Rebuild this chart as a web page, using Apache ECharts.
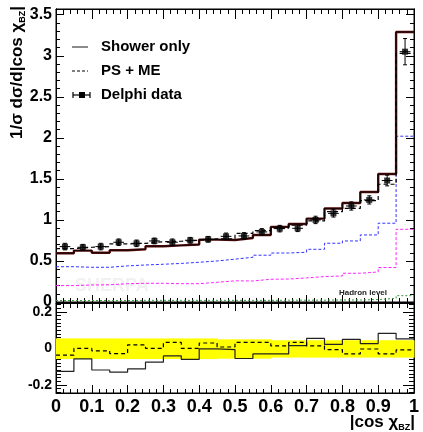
<!DOCTYPE html>
<html><head><meta charset="utf-8">
<script src="https://cdn.jsdelivr.net/npm/echarts@6/dist/echarts.min.js"></script>
<style>html,body{margin:0;padding:0;background:#fff}#c{width:423px;height:432px}</style>
</head><body><div id="c"></div>
<script>
// ---- data ----
const binEdges = [0,0.05,0.1,0.15,0.2,0.25,0.3,0.35,0.4,0.45,0.5,0.55,0.6,0.65,0.7,0.75,0.8,0.85,0.9,0.95,1.0];
const showerOnly = [0.594,0.626,0.600,0.630,0.643,0.680,0.690,0.700,0.760,0.756,0.780,0.817,0.915,0.951,1.016,1.140,1.207,1.340,1.560,3.290];
const psME       = [0.650,0.667,0.675,0.707,0.715,0.735,0.740,0.752,0.770,0.770,0.837,0.870,0.900,0.935,0.988,1.100,1.140,1.235,1.435,3.030];
const delphi     = [0.675,0.667,0.675,0.728,0.715,0.744,0.728,0.752,0.764,0.800,0.805,0.854,0.894,0.898,1.000,1.080,1.170,1.244,1.480,3.050];
const delphiErr  = [0.040,0.035,0.040,0.040,0.040,0.035,0.040,0.035,0.035,0.040,0.040,0.040,0.040,0.040,0.045,0.045,0.050,0.050,0.065,0.160];
const blueComp   = [0.430,0.423,0.423,0.440,0.451,0.460,0.470,0.484,0.500,0.522,0.545,0.570,0.597,0.606,0.642,0.716,0.744,0.817,0.960,2.020];
const magentaComp= [0.200,0.207,0.210,0.223,0.228,0.228,0.223,0.223,0.240,0.258,0.256,0.277,0.280,0.293,0.310,0.317,0.350,0.366,0.420,0.886];
const greenComp  = [0.018,0.018,0.018,0.018,0.020,0.020,0.020,0.020,0.020,0.020,0.020,0.020,0.022,0.022,0.022,0.025,0.025,0.030,0.045,0.077];
const ratioShower= [-0.126,-0.057,-0.118,-0.130,-0.112,-0.075,-0.041,-0.060,-0.002,-0.006,-0.055,-0.030,-0.030,0.016,0.055,0.022,0.050,0.027,0.083,0.052];
const ratioPSME  = [-0.037,0.000,-0.013,-0.028,0.020,0.000,0.033,0.000,0.030,0.008,0.033,0.033,0.014,0.033,0.014,-0.006,-0.030,-0.003,-0.030,-0.008];
const bandUp     = [0.055,0.055,0.055,0.055,0.055,0.055,0.055,0.055,0.055,0.050,0.050,0.050,0.045,0.045,0.045,0.045,0.045,0.045,0.045,0.045];
const bandDown   = [-0.058,-0.058,-0.058,-0.058,-0.058,-0.058,-0.058,-0.058,-0.058,-0.056,-0.056,-0.056,-0.050,-0.050,-0.050,-0.050,-0.050,-0.050,-0.050,-0.050];
const xTickValues = [0,0.1,0.2,0.3,0.4,0.5,0.6,0.7,0.8,0.9,1];
const xTickLabels = ['0','0.1','0.2','0.3','0.4','0.5','0.6','0.7','0.8','0.9','1'];
const yTopTicks  = [0,0.5,1,1.5,2,2.5,3,3.5];
const yTopLabels = ['0','0.5','1','1.5','2','2.5','3','3.5'];
const yBotTicks  = [-0.2,0,0.2];
const yBotLabels = ['-0.2','0','0.2'];

// ---- helpers ----
const FONT = '"Liberation Sans", Arial, Helvetica, sans-serif';
function stepData(vals){const d=[];vals.forEach((v,i)=>{d.push([binEdges[i],v]);d.push([binEdges[i+1],v]);});return d;}
const binCenters = delphi.map((v,i)=>(binEdges[i]+binEdges[i+1])/2);
function minorList(lo,hi,step,majors){const r=[];const n=Math.round((hi-lo)/step);for(let k=0;k<=n;k++){const v=+(lo+k*step).toFixed(4);if(!majors.some(m=>Math.abs(m-v)<1e-6))r.push(v);}return r;}
const yTopMinor = minorList(0,3.5,0.1,yTopTicks);
const yBotMinor = minorList(-0.24,0.24,0.02,yBotTicks);

function xAx(grid,pos,majLen,minLen,labels){
  return {type:'value',gridIndex:grid,position:pos,min:0,max:1,interval:0.1,
    axisLine:{show:true,onZero:false,lineStyle:{color:'#000',width:1}},
    splitLine:{show:false},
    axisTick:{show:true,inside:true,length:majLen,lineStyle:{color:'#000',width:1}},
    minorTick:{show:true,splitNumber:5,length:minLen,lineStyle:{color:'#000',width:1}},
    axisLabel:labels?{show:true,color:'#000',fontFamily:FONT,fontWeight:'bold',fontSize:18,margin:5,
      formatter:v=>{const i=xTickValues.findIndex(t=>Math.abs(t-v)<1e-6);return i>=0?xTickLabels[i]:'';}}:{show:false}};
}
function yAx(grid,pos,min,max,vals,len,labelTexts,fs){
  return {type:'value',gridIndex:grid,position:pos,min:min,max:max,
    axisLine:{show:true,onZero:false,lineStyle:{color:'#000',width:1}},
    splitLine:{show:false},
    axisTick:{show:true,inside:true,length:len,customValues:vals,lineStyle:{color:'#000',width:1}},
    axisLabel:labelTexts?{show:true,customValues:vals,color:'#000',fontFamily:FONT,fontWeight:'bold',fontSize:fs,margin:4,
      formatter:v=>{const i=vals.findIndex(t=>Math.abs(t-v)<1e-6);return i>=0?labelTexts[i]:'';}}:{show:false,customValues:vals}};
}
function stepLine(name,vals,xi,yi,color,width,type,z){
  return {name:name,type:'line',xAxisIndex:xi,yAxisIndex:yi,data:stepData(vals),symbol:'none',silent:true,z:z,
    lineStyle:{color:color,width:width,type:type},animation:false};
}

const chart = echarts.init(document.getElementById('c'),null,{renderer:'canvas'});
const option = {
  animation:false,
  backgroundColor:'#fff',
  grid:[
    {left:56,right:9,top:9,height:293,show:true,borderColor:'#000',borderWidth:1,backgroundColor:'transparent'},
    {left:56,right:9,top:303,height:90,show:true,borderColor:'#000',borderWidth:1,backgroundColor:'transparent'}
  ],
  xAxis:[
    xAx(0,'bottom',7,4,false),
    xAx(0,'top',10,5,false),
    xAx(1,'bottom',8,4,true),
    xAx(1,'top',8,5,false)
  ],
  yAxis:[
    yAx(0,'left',0,3.57,yTopTicks,8,yTopLabels,16),
    yAx(0,'left',0,3.57,yTopMinor,4,null),
    yAx(0,'right',0,3.57,yTopTicks,8,null),
    yAx(0,'right',0,3.57,yTopMinor,4,null),
    yAx(1,'left',-0.244,0.249,yBotTicks,11,yBotLabels,14),
    yAx(1,'left',-0.244,0.249,yBotMinor,5,null),
    yAx(1,'right',-0.244,0.249,yBotTicks,11,null),
    yAx(1,'right',-0.244,0.249,yBotMinor,5,null)
  ],
  series:[
    stepLine('green',greenComp,0,0,'#3a9a3a',1,[2,2],2),
    stepLine('magenta',magentaComp,0,0,'#ff22ff',1,[3,2],2),
    stepLine('blue',blueComp,0,0,'#3333ff',1,[3,2],2),
    stepLine('Shower only',showerOnly,0,0,'#5a0c0c',2.4,'solid',3),
    stepLine('Shower only line',showerOnly,0,0,'#000',0.8,'solid',4),
    stepLine('PS + ME',psME,0,0,'#000',1.2,[4,3],5),
    {name:'Delphi err',type:'custom',xAxisIndex:0,yAxisIndex:0,z:6,silent:true,
      data:delphi.map((v,i)=>[binCenters[i],v,delphiErr[i]]),
      renderItem:function(params,api){
        const x=api.value(0),y=api.value(1),e=api.value(2);
        const t=api.coord([x,y+e]),b=api.coord([x,y-e]),l=api.coord([x-0.015,y]),r=api.coord([x+0.015,y]);
        const st={stroke:'#000',lineWidth:1};
        return {type:'group',children:[
          {type:'line',shape:{x1:t[0],y1:t[1],x2:b[0],y2:b[1]},style:st},
          {type:'line',shape:{x1:t[0]-2,y1:t[1],x2:t[0]+2,y2:t[1]},style:st},
          {type:'line',shape:{x1:b[0]-2,y1:b[1],x2:b[0]+2,y2:b[1]},style:st},
          {type:'line',shape:{x1:l[0],y1:l[1],x2:r[0],y2:r[1]},style:st}
        ]};
      }},
    {name:'Delphi data',type:'scatter',xAxisIndex:0,yAxisIndex:0,z:7,silent:true,
      data:delphi.map((v,i)=>[binCenters[i],v]),symbol:'rect',symbolSize:6,itemStyle:{color:'#000'}},
    {name:'band',type:'custom',xAxisIndex:2,yAxisIndex:4,z:1,silent:true,
      data:bandUp.map((u,i)=>[binEdges[i],binEdges[i+1],u,bandDown[i]]),
      renderItem:function(params,api){
        const p1=api.coord([api.value(0),api.value(2)]),p2=api.coord([api.value(1),api.value(3)]);
        return {type:'rect',shape:{x:p1[0],y:p1[1],width:p2[0]-p1[0]+0.5,height:p2[1]-p1[1]},style:{fill:'#ffff00'}};
      }},
    stepLine('ratio PS+ME',ratioPSME,2,4,'#000',1.2,[4,3],5),
    stepLine('ratio shower',ratioShower,2,4,'#222',1.2,'solid',4)
  ],
  graphic:[
    {type:'text',x:75,y:286,z:0,silent:true,style:{text:'SHERPA',fill:'#f1f1f1',font:'bold 18px '+FONT,verticalAlign:'middle'}},
    {type:'line',shape:{x1:72,y1:47,x2:88,y2:47},style:{stroke:'#666',lineWidth:1.5}},
    {type:'text',x:101,y:47,style:{text:'Shower only',fill:'#000',font:'bold 15px '+FONT,verticalAlign:'middle'}},
    {type:'line',shape:{x1:72,y1:71,x2:88,y2:71},style:{stroke:'#000',lineWidth:1.2,lineDash:[3,2]}},
    {type:'text',x:101,y:71,style:{text:'PS + ME',fill:'#000',font:'bold 15px '+FONT,verticalAlign:'middle'}},
    {type:'line',shape:{x1:73,y1:95,x2:90,y2:95},style:{stroke:'#000',lineWidth:1.2}},
    {type:'line',shape:{x1:73,y1:92,x2:73,y2:98},style:{stroke:'#000',lineWidth:1.2}},
    {type:'line',shape:{x1:90,y1:92,x2:90,y2:98},style:{stroke:'#000',lineWidth:1.2}},
    {type:'rect',shape:{x:79,y:92,width:6,height:6},style:{fill:'#000'}},
    {type:'text',x:101,y:95,style:{text:'Delphi data',fill:'#000',font:'bold 15px '+FONT,verticalAlign:'middle'}},
    {type:'text',x:339,y:293,z:10,style:{text:'Hadron level',fill:'#222',font:'bold 8px '+FONT,verticalAlign:'middle'}},
    {type:'text',x:17,y:6,rotation:Math.PI/2,style:{text:'{a|1/σ dσ/d|cos χ}{s|BZ}{a||}',align:'right',verticalAlign:'middle',fill:'#000',
      rich:{a:{fontFamily:FONT,fontWeight:'bold',fontSize:17,fill:'#000',lineHeight:20},
            s:{fontFamily:FONT,fontWeight:'bold',fontSize:9,fill:'#000',verticalAlign:'bottom',lineHeight:14}}}},
    {type:'text',x:415,y:422,style:{text:'{a||cos χ}{s|BZ}{a||}',align:'right',verticalAlign:'middle',fill:'#000',
      rich:{a:{fontFamily:FONT,fontWeight:'bold',fontSize:17,fill:'#000',lineHeight:20},
            s:{fontFamily:FONT,fontWeight:'bold',fontSize:9,fill:'#000',verticalAlign:'bottom',lineHeight:14}}}}
  ]
};
chart.setOption(option);
</script></body></html>
